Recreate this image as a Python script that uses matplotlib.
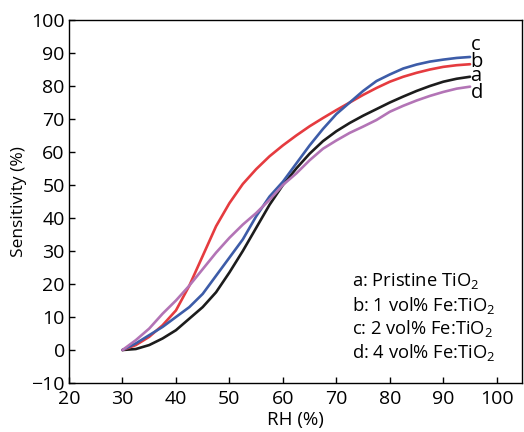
import numpy as np
import matplotlib
matplotlib.use('Agg')
import matplotlib.pyplot as plt

plt.rcParams['font.family'] = ['Open Sans', 'DejaVu Sans']
plt.rcParams['mathtext.fontset'] = 'custom'
plt.rcParams['mathtext.rm'] = 'Open Sans'

# ==================== Data ====================
rh = [30, 32.5, 35, 37.5, 40, 42.5, 45, 47.5, 50, 52.5, 55, 57.5, 60,
      62.5, 65, 67.5, 70, 72.5, 75, 77.5, 80, 82.5, 85, 87.5, 90, 92.5, 95]

sens_a = [0, 0.3, 1.5, 3.5, 6, 9.5, 13, 17.5, 23.5, 30, 37, 44, 50,
          55, 59.5, 63.3, 66.3, 68.8, 71, 73, 75, 76.8, 78.5, 80, 81.3, 82.2, 82.8]
sens_b = [0, 1.5, 4, 7.5, 12, 19.5, 28.5, 37.5, 44.5, 50.3, 54.8, 58.7, 62,
          65, 67.8, 70.3, 72.7, 75, 77.3, 79.4, 81.3, 82.8, 84, 85, 85.8, 86.3, 86.6]
sens_c = [0, 2, 4.5, 7, 10, 13, 17, 22.5, 28, 33.5, 40.5, 46.5, 51,
          56.5, 62, 67, 71.5, 75, 78.5, 81.5, 83.5, 85.3, 86.5, 87.4, 88, 88.5, 88.8]
sens_d = [0, 3, 6.5, 11, 15, 19.5, 24.5, 29.5, 34, 38, 41.5, 45.5, 50,
          53.5, 57.5, 61, 63.5, 65.8, 67.7, 69.7, 72.2, 74, 75.6, 77, 78.2, 79.2, 79.8]

series = [('a', sens_a, '#1c1c1c'),
          ('b', sens_b, '#e53b3f'),
          ('c', sens_c, '#3d5ca8'),
          ('d', sens_d, '#b374b6')]

end_label_y = {'c': 92.3, 'b': 87.4, 'a': 83.0, 'd': 77.8}

legend_lines = ['a: Pristine TiO$_2$',
                'b: 1 vol% Fe:TiO$_2$',
                'c: 2 vol% Fe:TiO$_2$',
                'd: 4 vol% Fe:TiO$_2$']

# ==================== Figure ====================
fig = plt.figure(figsize=(5.24, 4.32), dpi=100)
ax = fig.add_axes([0.1317, 0.1134, 0.8643, 0.8403])

for name, vals, col in series:
    ax.plot(rh, vals, color=col, lw=1.9, solid_capstyle='round', solid_joinstyle='round')
    ax.text(95.1, end_label_y[name], name, fontsize=14.5, ha='left', va='center')

for i, txt in enumerate(legend_lines):
    ax.text(73.0, 20.8 - i * 7.2, txt, fontsize=13.2, ha='left', va='center')

ax.set_xlim(20, 104.7)
ax.set_ylim(-10, 100)
ax.set_xticks(np.arange(20, 101, 10))
ax.set_yticks(np.arange(-10, 101, 10))
ax.set_yticklabels([('\u2212' + str(-v)) if v < 0 else str(v) for v in range(-10, 101, 10)])
ax.tick_params(direction='in', length=4, width=1, labelsize=14, pad=3,
               top=False, right=False)
ax.tick_params(axis='x', pad=5)
for sp in ax.spines.values():
    sp.set_linewidth(1.0)

ax.set_xlabel('RH (%)', fontsize=13.5, labelpad=2)
ax.set_ylabel('Sensitivity (%)', fontsize=12.5, labelpad=3)

fig.savefig('out.png', dpi=100)
